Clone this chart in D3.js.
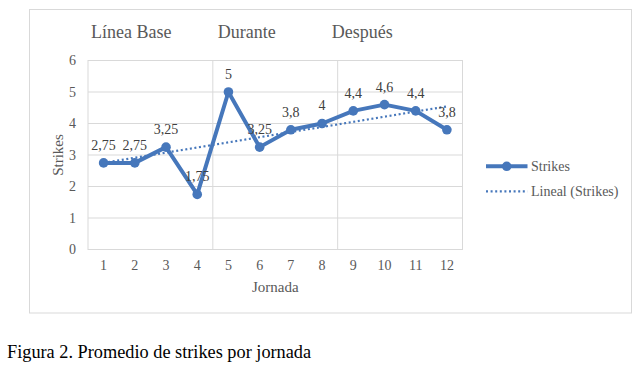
<!DOCTYPE html>
<html>
<head>
<meta charset="utf-8">
<script src="https://cdn.jsdelivr.net/npm/d3@7"></script>
<style>
  body { margin: 0; background: #fff; }
  svg { display: block; font-family: "Liberation Serif", "Times New Roman", serif; }
</style>
</head>
<body>
<div id="chart"></div>
<script>
// datos de la figura
const jornadas = [1, 2, 3, 4, 5, 6, 7, 8, 9, 10, 11, 12];
const strikes = [2.75, 2.75, 3.25, 1.75, 5, 3.25, 3.8, 4, 4.4, 4.6, 4.4, 3.8];
const yTicks = [0, 1, 2, 3, 4, 5, 6];
const fases = ["Línea Base", "Durante", "Después"];
const cortes = [4, 8]; // separadores entre fases (después de la jornada n)

const W = 643, H = 365;
const plot = { left: 88, top: 60.5, right: 462.5, bottom: 249.5 };
const blue = "#4677BB";
const grid = "#d9d9d9";

const svg = d3.select("#chart").append("svg")
  .attr("width", W).attr("height", H);

// marco del gráfico
svg.append("rect")
  .attr("x", 29.5).attr("y", 9.5)
  .attr("width", 602).attr("height", 303.5)
  .attr("fill", "#fff").attr("stroke", grid);

const x = d3.scaleBand()
  .domain(jornadas)
  .range([plot.left, plot.right]);
const y = d3.scaleLinear()
  .domain([0, 6])
  .range([plot.bottom, plot.top]);

// líneas de cuadrícula horizontales
svg.append("g")
  .selectAll("line")
  .data(yTicks)
  .join("line")
  .attr("x1", plot.left).attr("x2", plot.right)
  .attr("y1", d => y(d)).attr("y2", d => y(d))
  .attr("stroke", grid);

// borde del área de trazado
svg.append("rect")
  .attr("x", plot.left).attr("y", y(6))
  .attr("width", plot.right - plot.left).attr("height", y(0) - y(6))
  .attr("fill", "none").attr("stroke", grid);

// separadores de fase
svg.append("g")
  .selectAll("line")
  .data(cortes)
  .join("line")
  .attr("x1", d => x(d) + x.bandwidth()).attr("x2", d => x(d) + x.bandwidth())
  .attr("y1", y(6)).attr("y2", y(0))
  .attr("stroke", grid);

// etiquetas eje Y
svg.append("g")
  .selectAll("text")
  .data(yTicks)
  .join("text")
  .attr("x", plot.left - 12)
  .attr("y", d => y(d))
  .attr("dy", "0.35em")
  .attr("text-anchor", "end")
  .attr("fill", "#595959")
  .style("font-size", "14px")
  .text(d => d);

// etiquetas eje X
svg.append("g")
  .selectAll("text")
  .data(jornadas)
  .join("text")
  .attr("x", d => x(d) + x.bandwidth() / 2)
  .attr("y", plot.bottom + 15.5)
  .attr("dy", "0.35em")
  .attr("text-anchor", "middle")
  .attr("fill", "#595959")
  .style("font-size", "14px")
  .text(d => d);

// títulos de ejes
svg.append("text")
  .attr("transform", `translate(57.5,${(plot.top + plot.bottom) / 2}) rotate(-90)`)
  .attr("dy", "0.35em")
  .attr("text-anchor", "middle")
  .attr("fill", "#595959")
  .style("font-size", "15px")
  .text("Strikes");

svg.append("text")
  .attr("x", (plot.left + plot.right) / 2)
  .attr("y", 287)
  .attr("dy", "0.35em")
  .attr("text-anchor", "middle")
  .attr("fill", "#595959")
  .style("font-size", "15px")
  .text("Jornada");

// títulos de fase
const faseX = [x(1) + 3, x(5) + 5, x(9) - 6];
svg.append("g")
  .selectAll("text")
  .data(fases)
  .join("text")
  .attr("x", (d, i) => faseX[i])
  .attr("y", 31.5)
  .attr("dy", "0.35em")
  .attr("fill", "#595959")
  .style("font-size", "18px")
  .text(d => d);

// línea de tendencia (regresión lineal)
const mx = d3.mean(jornadas), my = d3.mean(strikes);
const slope = d3.sum(jornadas, (j, i) => (j - mx) * (strikes[i] - my)) /
  d3.sum(jornadas, j => (j - mx) * (j - mx));
const icpt = my - slope * mx;
const cx = d => x(d) + x.bandwidth() / 2;

svg.append("line")
  .attr("x1", cx(1)).attr("y1", y(icpt + slope * 1))
  .attr("x2", cx(12)).attr("y2", y(icpt + slope * 12))
  .attr("stroke", blue)
  .attr("stroke-width", 2.2)
  .attr("stroke-dasharray", "2,2.6");

// serie Strikes
const line = d3.line()
  .x((d, i) => cx(jornadas[i]))
  .y(d => y(d));

svg.append("path")
  .datum(strikes)
  .attr("d", line)
  .attr("fill", "none")
  .attr("stroke", blue)
  .attr("stroke-width", 4)
  .attr("stroke-linejoin", "round");

svg.append("g")
  .selectAll("circle")
  .data(strikes)
  .join("circle")
  .attr("cx", (d, i) => cx(jornadas[i]))
  .attr("cy", d => y(d))
  .attr("r", 4.8)
  .attr("fill", blue);

// etiquetas de datos
const fmt = v => String(v).replace(".", ",");
svg.append("g")
  .selectAll("text")
  .data(strikes)
  .join("text")
  .attr("x", (d, i) => cx(jornadas[i]))
  .attr("y", d => y(d) - 18)
  .attr("dy", "0.35em")
  .attr("text-anchor", "middle")
  .attr("fill", "#404040")
  .style("font-size", "14px")
  .text(d => fmt(d));

// leyenda
const lg = svg.append("g");
lg.append("line")
  .attr("x1", 486).attr("x2", 527.5)
  .attr("y1", 166.3).attr("y2", 166.3)
  .attr("stroke", blue).attr("stroke-width", 4);
lg.append("circle")
  .attr("cx", 506.7).attr("cy", 166.3).attr("r", 4.8)
  .attr("fill", blue);
lg.append("text")
  .attr("x", 531).attr("y", 166.3).attr("dy", "0.35em")
  .attr("fill", "#595959").style("font-size", "14px")
  .text("Strikes");
lg.append("line")
  .attr("x1", 486).attr("x2", 527.5)
  .attr("y1", 191.3).attr("y2", 191.3)
  .attr("stroke", blue).attr("stroke-width", 2.2)
  .attr("stroke-dasharray", "2,2.6");
lg.append("text")
  .attr("x", 531).attr("y", 191.3).attr("dy", "0.35em")
  .attr("fill", "#595959").style("font-size", "14px")
  .text("Lineal (Strikes)");

// pie de figura
svg.append("text")
  .attr("x", 7).attr("y", 351.5)
  .attr("dy", "0.35em")
  .attr("fill", "#000")
  .style("font-size", "18.3px")
  .text("Figura 2. Promedio de strikes por jornada");
</script>
</body>
</html>
